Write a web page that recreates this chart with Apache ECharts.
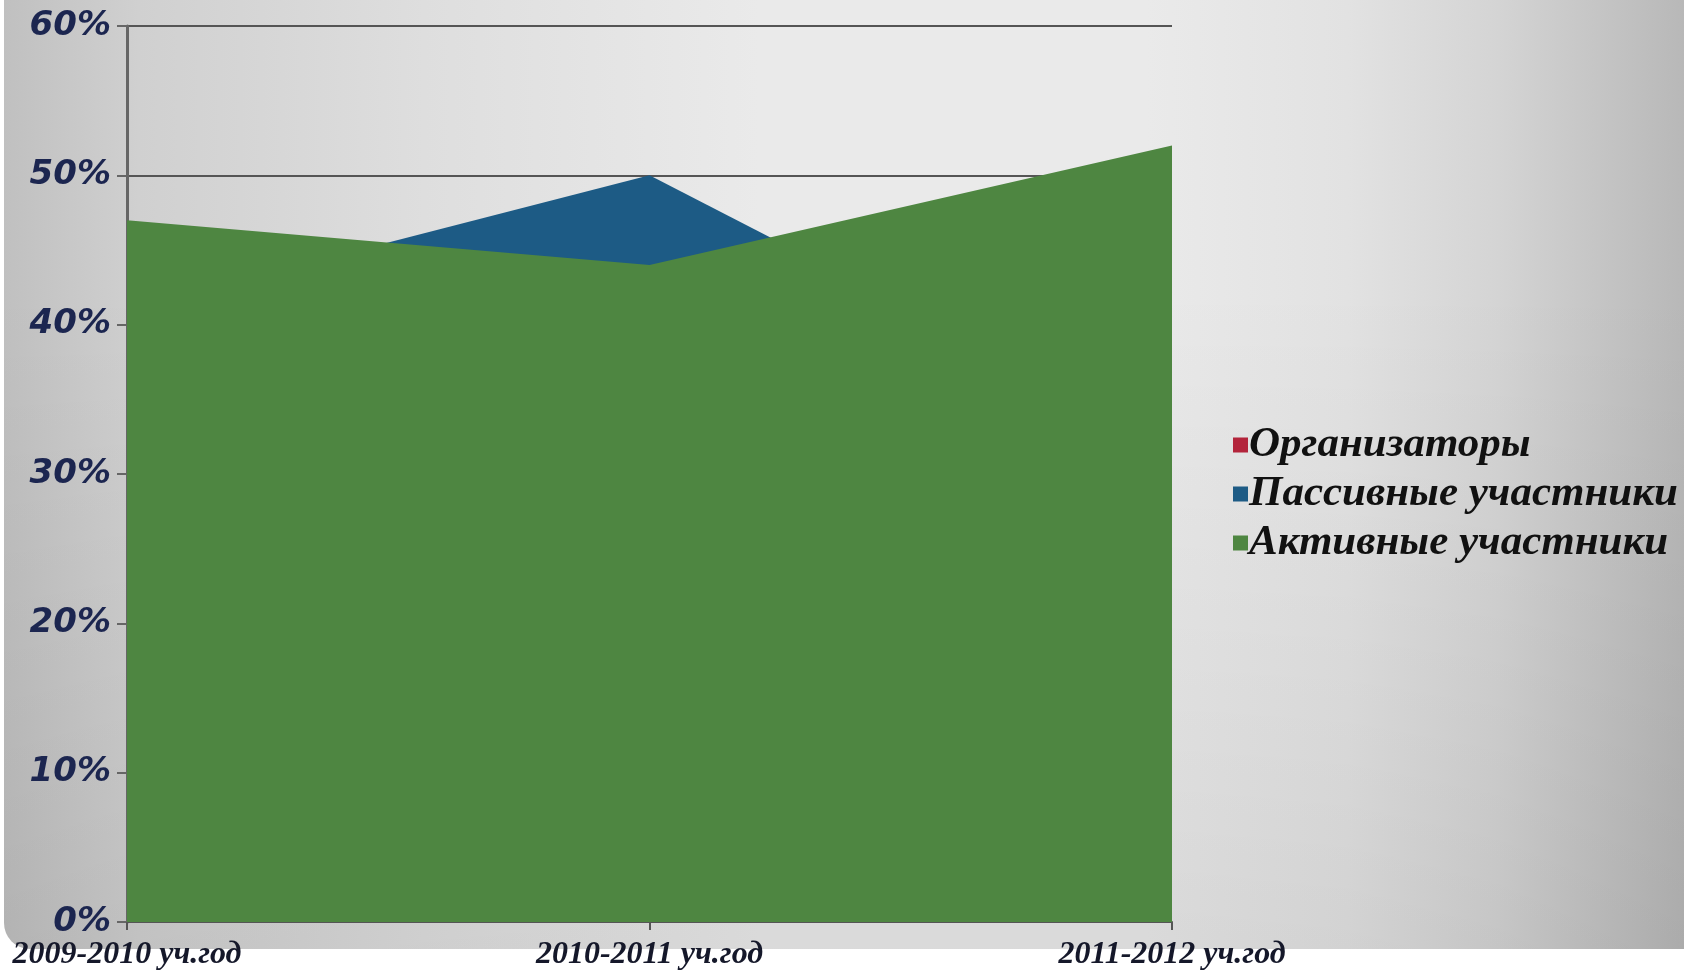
<!DOCTYPE html>
<html>
<head>
<meta charset="utf-8">
<script src="https://cdn.jsdelivr.net/npm/echarts@6/dist/echarts.min.js"></script>
<style>
  html, body { margin: 0; padding: 0; background: #ffffff; }
  #chart { width: 1684px; height: 973px; }
</style>
</head>
<body>
<div id="chart"></div>
<script>
const categories = ['2009-2010 уч.год', '2010-2011 уч.год', '2011-2012 уч.год'];
const seriesNames = ['Организаторы', 'Пассивные участники', 'Активные участники'];
const organizers = [5, 6, 8];
const passive = [41, 50, 32];
const active = [47, 44, 52];
const yTicks = { min: 0, max: 60, interval: 10 };
const colors = ['#b3243b', '#1d5b85', '#4e8641'];

const chart = echarts.init(document.getElementById('chart'), null, { renderer: 'canvas' });

function areaSeries(name, data, color) {
  return {
    name: name,
    type: 'line',
    data: data,
    showSymbol: false,
    symbol: 'none',
    lineStyle: { width: 0, color: color },
    itemStyle: { color: color },
    areaStyle: { color: color, opacity: 1 },
    emphasis: { disabled: true },
    silent: true
  };
}

const option = {
  animation: false,
  graphic: [
    {
      type: 'rect',
      z: -10,
      silent: true,
      shape: { x: 4, y: 0, width: 1680, height: 949, r: [0, 0, 0, 26] },
      style: {
        fill: new echarts.graphic.LinearGradient(0, 0, 1, 0, [
          { offset: 0, color: '#c0c0c0' },
          { offset: 0.08, color: '#d0d0d0' },
          { offset: 0.25, color: '#dedede' },
          { offset: 0.45, color: '#eaeaea' },
          { offset: 0.68, color: '#eaeaea' },
          { offset: 0.8, color: '#e2e2e2' },
          { offset: 0.89, color: '#d4d4d4' },
          { offset: 1, color: '#b8b8b8' }
        ])
      }
    },
    {
      type: 'rect',
      z: -9,
      silent: true,
      shape: { x: 4, y: 0, width: 1680, height: 949, r: [0, 0, 0, 26] },
      style: {
        fill: new echarts.graphic.LinearGradient(0, 0, 0, 1, [
          { offset: 0, color: 'rgba(0,0,0,0)' },
          { offset: 0.3, color: 'rgba(0,0,0,0)' },
          { offset: 1, color: 'rgba(0,0,0,0.07)' }
        ])
      }
    }
  ],
  grid: { left: 127, right: 512, top: 26, bottom: 51, containLabel: false },
  legend: {
    orient: 'vertical',
    left: 1228,
    top: 418,
    itemWidth: 15,
    itemHeight: 15,
    itemGap: 5,
    icon: 'rect',
    data: seriesNames,
    textStyle: {
      fontFamily: 'Liberation Serif',
      fontStyle: 'italic',
      fontWeight: 'bold',
      fontSize: 43,
      lineHeight: 44,
      color: '#111111',
      padding: [0, 0, 0, -4]
    },
    selectedMode: false
  },
  xAxis: {
    type: 'category',
    boundaryGap: false,
    data: categories,
    axisLine: { show: true, lineStyle: { color: '#555555', width: 2 } },
    axisTick: { show: true, length: 8, lineStyle: { color: '#555555', width: 2 } },
    axisLabel: {
      margin: 17,
      fontFamily: 'Liberation Serif',
      fontStyle: 'italic',
      fontWeight: 'bold',
      fontSize: 32,
      color: '#15182a'
    },
    splitLine: { show: false }
  },
  yAxis: {
    type: 'value',
    min: yTicks.min,
    max: yTicks.max,
    interval: yTicks.interval,
    axisLine: { show: true, lineStyle: { color: '#666666', width: 3 } },
    axisTick: { show: true, length: 10, lineStyle: { color: '#666666', width: 2 } },
    axisLabel: {
      margin: 16,
      formatter: '{value}%',
      fontFamily: 'DejaVu Sans',
      fontStyle: 'italic',
      fontWeight: 'bold',
      fontSize: 34,
      color: '#1c2650'
    },
    splitLine: { show: true, lineStyle: { color: '#555555', width: 2 } }
  },
  series: [
    areaSeries(seriesNames[0], organizers, colors[0]),
    areaSeries(seriesNames[1], passive, colors[1]),
    areaSeries(seriesNames[2], active, colors[2])
  ]
};

chart.setOption(option);
</script>
</body>
</html>
